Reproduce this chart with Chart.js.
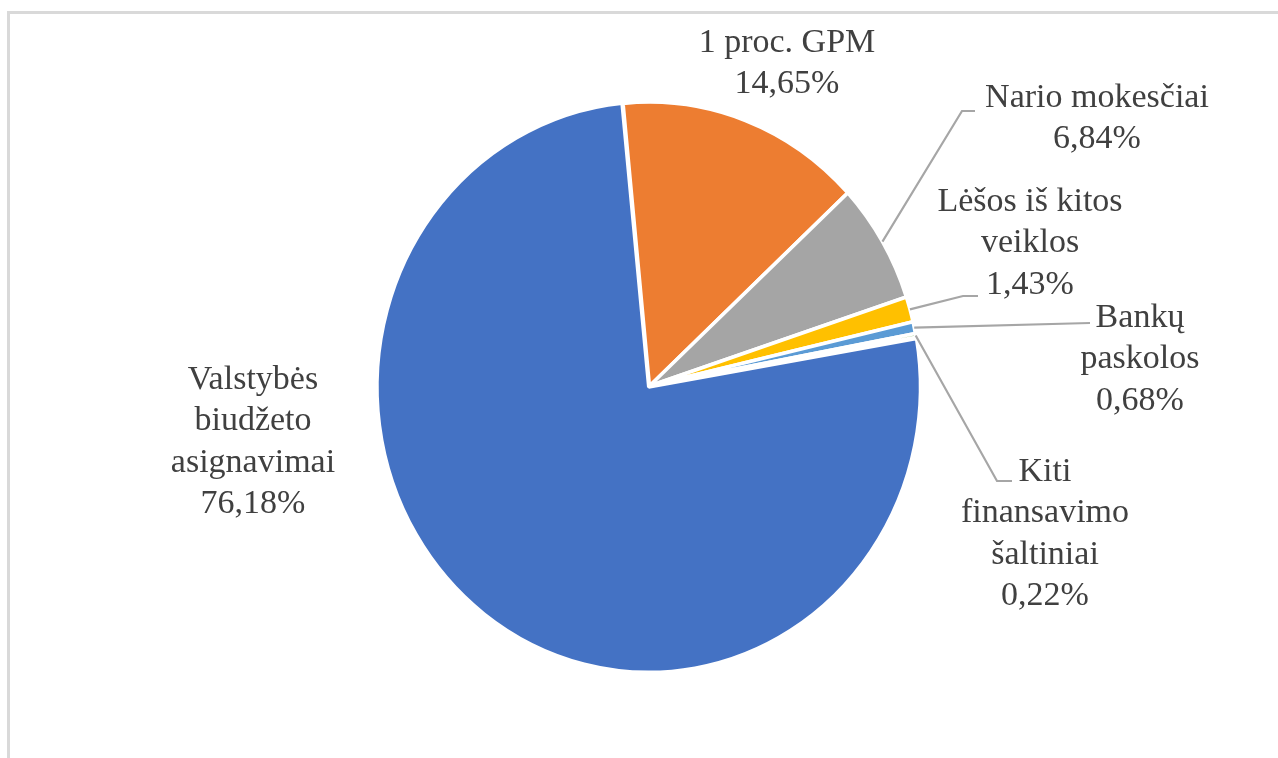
<!DOCTYPE html>
<html><head><meta charset="utf-8">
<script src="https://cdn.jsdelivr.net/npm/chart.js@4/dist/chart.umd.min.js"></script>
<style>
html,body{margin:0;padding:0;background:#fff;overflow:hidden;}
#wrap{position:relative;width:1278px;height:758px;overflow:hidden;}
#frame{position:absolute;left:7px;top:11px;width:1400px;height:900px;border:3px solid #d9d9d9;box-sizing:border-box;}
canvas{position:absolute;left:0;top:0;}
</style></head><body>
<div id="wrap"><div id="frame"></div><canvas id="c" width="1278" height="758"></canvas></div>
<script>
const categories = ["Valstybės biudžeto asignavimai", "1 proc. GPM", "Nario mokesčiai", "Lėšos iš kitos veiklos", "Bankų paskolos", "Kiti finansavimo šaltiniai"];
const values = [76.18, 14.65, 6.84, 1.43, 0.68, 0.22];
const labelLines = [["Valstybės","biudžeto","asignavimai"], ["1 proc. GPM"], ["Nario mokesčiai"], ["Lėšos iš kitos","veiklos"], ["Bankų","paskolos"], ["Kiti","finansavimo","šaltiniai"]];

const colors = ['#4472C4','#ED7D31','#A5A5A5','#FFC000','#5B9BD5','#70AD47'];
const sliceOffsets = [5,0,0,0,0,0];
const labelPos = [[253,380],[787,43],[1097,98],[1030,202],[1140,318],[1045,472]];
const leaderPts = [null, null, [[962,111],[975,111]], [[963,296],[978,296]], [[1090,323]], [[997,481],[1012,481]]];
const LINE_H = 41.5;
const Y_STRETCH = 1.05;

function fmt(v){ return v.toFixed(2).replace('.', ',') + '%'; }

const stretchPlugin = {
  id: 'stretch',
  beforeDatasetsDraw(chart){
    const a = chart.chartArea, ctx = chart.ctx;
    const cy = (a.top + a.bottom)/2;
    ctx.save();
    ctx.translate(0, cy);
    ctx.scale(1, Y_STRETCH);
    ctx.translate(0, -cy);
  },
  afterDatasetsDraw(chart){ chart.ctx.restore(); }
};

const labelPlugin = {
  id: 'labels',
  afterDraw(chart){
    const ctx = chart.ctx;
    const meta = chart.getDatasetMeta(0);
    ctx.save();
    ctx.strokeStyle = '#a6a6a6';
    ctx.lineWidth = 2.2;
    meta.data.forEach((el, i) => {
      const pts = leaderPts[i];
      if (!pts) return;
      const p = el.getProps(['x','y','startAngle','endAngle','outerRadius'], true);
      const mid = (p.startAngle + p.endAngle)/2;
      const sx = p.x + p.outerRadius * Math.cos(mid);
      const sy = p.y + p.outerRadius * Math.sin(mid) * Y_STRETCH;
      ctx.beginPath();
      ctx.moveTo(sx, sy);
      pts.forEach(q => ctx.lineTo(q[0], q[1]));
      ctx.stroke();
    });
    ctx.fillStyle = '#404040';
    ctx.font = '34px "Liberation Serif", "Times New Roman", serif';
    ctx.textAlign = 'center';
    ctx.textBaseline = 'middle';
    categories.forEach((c, i) => {
      const lines = labelLines[i].concat([fmt(values[i])]);
      const [x, y] = labelPos[i];
      lines.forEach((t, k) => ctx.fillText(t, x, y + k * LINE_H));
    });
    ctx.restore();
  }
};

new Chart(document.getElementById('c'), {
  type: 'pie',
  data: {
    labels: categories,
    datasets: [{
      data: values,
      backgroundColor: colors,
      borderColor: '#ffffff',
      borderWidth: 3.5,
      offset: sliceOffsets
    }]
  },
  options: {
    responsive: false,
    animation: false,
    events: [],
    rotation: 80.15,
    radius: 270.5,
    layout: { padding: { left: 100, right: 79, top: 20, bottom: 6 } },
    plugins: { legend: { display: false }, tooltip: { enabled: false } }
  },
  plugins: [stretchPlugin, labelPlugin]
});
</script>
</body></html>
